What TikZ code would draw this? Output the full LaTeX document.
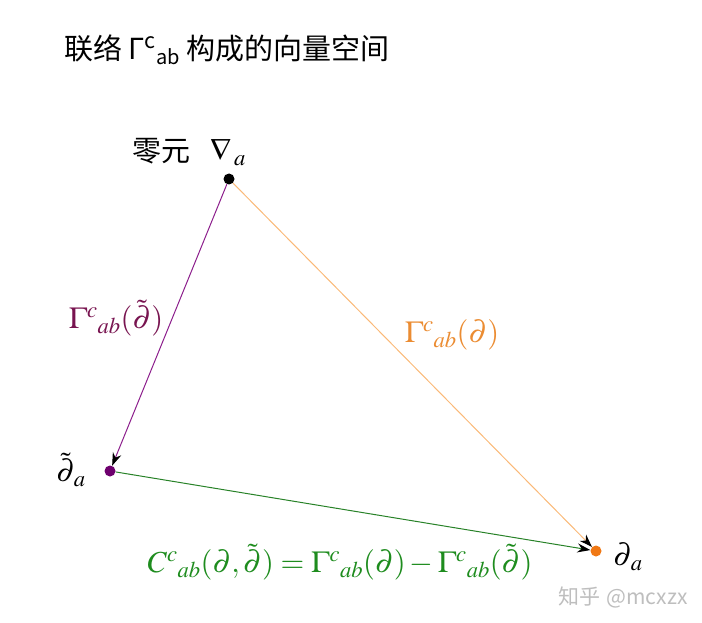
\documentclass[tikz,border=0pt]{standalone}
\usepackage{mathptmx}
\usepackage{fontspec}
\newfontfamily\cjk{Noto Sans CJK SC}
\usetikzlibrary{arrows.meta}
\definecolor{purpleline}{RGB}{140,30,140}
\definecolor{purpledot}{RGB}{110,0,110}
\definecolor{purpletext}{RGB}{120,20,80}
\definecolor{orangeline}{RGB}{250,185,120}
\definecolor{orangedot}{RGB}{240,120,20}
\definecolor{orangetext}{RGB}{235,140,50}
\definecolor{greenline}{RGB}{40,130,40}
\definecolor{greentext}{RGB}{30,140,30}
\definecolor{marktext}{RGB}{190,190,190}
\tikzset{
  dot/.style={circle, draw=none, inner sep=0pt, minimum size=11pt},
  vec/.style={line width=1pt, -{Stealth[black,length=13pt,width=9pt]}},
  mathlbl/.style={inner sep=0pt, font=\fontsize{30.5}{36}\selectfont},
  cjklbl/.style={inner sep=0pt, font=\cjk\fontsize{29}{33}\selectfont}
}
\begin{document}
\begin{tikzpicture}[x=1pt,y=-1pt]
\useasboundingbox (0,0) rectangle (702,623);
\node[cjklbl, anchor=west] (title) at (64,50) {联络 Γ\textsuperscript{c}\raisebox{-0.35ex}{\fontsize{20}{22}\selectfont ab} 构成的向量空间};
\node[dot, fill=black] (O) at (229,179) {};
\node[dot, fill=purpledot] (T) at (110,471) {};
\node[dot, fill=orangedot] (P) at (596,551) {};
\draw[vec, draw=purpleline] (O) -- (T);
\draw[vec, draw=orangeline] (O) -- (P);
\draw[vec, draw=greenline] (T) -- (P);
\node[cjklbl] (zero) at (161,151) {零元};
\node[mathlbl] (nabla) at (228,152) {$\nabla_{\,a}$};
\node[mathlbl] (tl) at (71,470) {$\tilde{\partial}_{\,a}$};
\node[mathlbl] (pl) at (628,557) {$\partial_{\,a}$};
\node[mathlbl, text=purpletext] (gt) at (116,318) {$\Gamma^{c}{}_{ab}(\tilde{\partial})$};
\node[mathlbl, text=orangetext] (gp) at (452,335) {$\Gamma^{c}{}_{ab}(\partial)$};
\node[mathlbl, text=greentext] (cc) at (340,562) {$C^{c}{}_{ab}(\partial,\tilde{\partial})=\Gamma^{c}{}_{ab}(\partial)-\Gamma^{c}{}_{ab}(\tilde{\partial})$};
\node[anchor=west, inner sep=0pt, text=marktext, font=\fontsize{21}{24}\selectfont] (wm) at (558,597) {{\cjk 知乎} {\cjk @mcxzx}};
\end{tikzpicture}
\end{document}
